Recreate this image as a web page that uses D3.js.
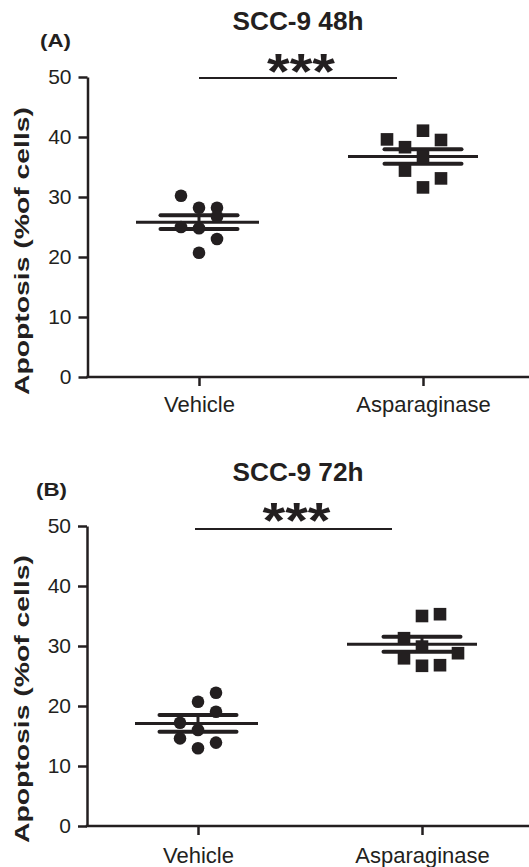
<!DOCTYPE html>
<html><head><meta charset="utf-8">
<script src="https://cdn.jsdelivr.net/npm/d3@7"></script>
<style>
html,body{margin:0;padding:0;background:#fff;}
svg{display:block;font-family:"Liberation Sans",Arial,sans-serif;}
</style></head>
<body>
<svg id="chart" width="529" height="867"></svg>
<script>
// ---- data ----
const categories = ["Vehicle", "Asparaginase"];
const yTicks = [0, 10, 20, 30, 40, 50];
const panelTitles = ["SCC-9 48h", "SCC-9 72h"];
const panelLetters = ["(A)", "(B)"];
const yTitle = "Apoptosis (%of cells)";
const significance = "***";

// Panel A (48h)
const vehicle48 = [30.2, 28.2, 28.2, 26.7, 25.0, 24.8, 23.0, 20.7];
const vehicle48Slot = [-1, 0, 1, 1, -1, 0, 1, 0];
const asparaginase48 = [39.6, 41.05, 39.5, 38.3, 36.7, 34.4, 33.1, 31.6];
const asparaginase48Slot = [-2, 0, 1, -1, 0, -1, 1, 0];
const mean48 = [25.8, 36.75];
const sem48 = [1.15, 1.2];

// Panel B (72h)
const vehicle72 = [20.7, 22.2, 19.05, 17.2, 16.0, 14.6, 13.9, 12.95];
const vehicle72Slot = [0, 1, 1, -1, 0, -1, 1, 0];
const asparaginase72 = [35.0, 35.3, 31.3, 29.9, 28.8, 27.95, 26.8, 26.7];
const asparaginase72Slot = [0, 1, -1, 0, 2, -1, 1, 0];
const mean72 = [17.1, 30.3];
const sem72 = [1.4, 1.25];

const INK = "#231f20";
const svg = d3.select("#chart");

const panels = [
  {title: panelTitles[0], letter: panelLetters[0], groups: [vehicle48, asparaginase48], slots: [vehicle48Slot, asparaginase48Slot],
   mean: mean48, sem: sem48, top: 77, bottom: 377, axisX: 87.5, xr: [199, 423],
   titleY: 30, letterX: 40, letterY: 47, sigLine: [199, 397], sigY: 78, starBase: 89, labelBase: 412, yTitleC: 251},
  {title: panelTitles[1], letter: panelLetters[1], groups: [vehicle72, asparaginase72], slots: [vehicle72Slot, asparaginase72Slot],
   mean: mean72, sem: sem72, top: 526, bottom: 826, axisX: 87, xr: [198, 422],
   titleY: 481, letterX: 36, letterY: 496, sigLine: [195, 392], sigY: 529, starBase: 538, labelBase: 863, yTitleC: 699}
];
// mean-line extents relative to column centre [left, right]
const meanLineExt = [[-63, 60], [-75, 55]];

panels.forEach(p => {
  const g = svg.append("g");
  const x = d3.scalePoint().domain(categories).range(p.xr);
  const y = d3.scaleLinear().domain([0, 50]).range([p.bottom, p.top]);
  const slotW = 18;

  // y axis
  const ya = g.append("g").attr("transform", `translate(${p.axisX},0)`)
    .call(d3.axisLeft(y).tickValues(yTicks).tickSize(9).tickSizeOuter(0).tickPadding(7));
  ya.selectAll("path.domain").attr("stroke", INK).attr("stroke-width", 2.5);
  ya.selectAll(".tick line").attr("stroke", INK).attr("stroke-width", 2.5);
  ya.selectAll(".tick text").attr("fill", INK).style("font-size", "21px").attr("font-family", null);

  // x axis
  const xa = g.append("g").attr("transform", `translate(0,${p.bottom})`)
    .call(d3.axisBottom(x).tickSize(9).tickSizeOuter(0));
  xa.select("path.domain").remove();
  xa.append("line").attr("x1", p.axisX - 1.25).attr("x2", 529).attr("y1", 0).attr("y2", 0)
    .attr("stroke", INK).attr("stroke-width", 2.5);
  xa.selectAll(".tick line").attr("stroke", INK).attr("stroke-width", 2.5);
  xa.selectAll(".tick text").attr("fill", INK).style("font-size", "22px").attr("font-family", null)
    .attr("dy", null).attr("y", p.labelBase - p.bottom);

  // y title
  g.append("text").attr("transform", `translate(29,${p.yTitleC}) rotate(-90)`)
    .attr("text-anchor", "middle").attr("fill", INK).style("font-size", "21px").style("font-weight", "bold")
    .attr("textLength", 288).attr("lengthAdjust", "spacingAndGlyphs").text(yTitle);

  // panel title
  g.append("text").attr("x", 298).attr("y", p.titleY).attr("text-anchor", "middle")
    .attr("fill", INK).style("font-size", "25px").style("font-weight", "bold")
    .attr("textLength", 131).attr("lengthAdjust", "spacingAndGlyphs").text(p.title);
  g.append("text").attr("x", p.letterX).attr("y", p.letterY)
    .attr("fill", INK).style("font-size", "19px").style("font-weight", "bold")
    .attr("textLength", 31).attr("lengthAdjust", "spacingAndGlyphs").text(p.letter);

  // significance
  g.append("line").attr("x1", p.sigLine[0]).attr("x2", p.sigLine[1]).attr("y1", p.sigY).attr("y2", p.sigY)
    .attr("stroke", INK).attr("stroke-width", 2);
  g.append("text").attr("x", (p.sigLine[0] + p.sigLine[1]) / 2 + 3).attr("y", p.starBase).attr("text-anchor", "middle")
    .attr("fill", INK).style("font-size", "50px").style("font-weight", "bold")
    .attr("textLength", 68).attr("lengthAdjust", "spacingAndGlyphs").text(significance);

  // mean + SEM
  categories.forEach((c, i) => {
    const cx = x(c);
    const m = p.mean[i], s = p.sem[i];
    g.append("line").attr("x1", cx).attr("x2", cx).attr("y1", y(m + s)).attr("y2", y(m - s))
      .attr("stroke", INK).attr("stroke-width", 3);
    g.append("line").attr("x1", cx + meanLineExt[i][0]).attr("x2", cx + meanLineExt[i][1]).attr("y1", y(m)).attr("y2", y(m))
      .attr("stroke", INK).attr("stroke-width", 3);
    [m + s, m - s].forEach(v => {
      g.append("line").attr("x1", cx - 38.5).attr("x2", cx + 38.5).attr("y1", y(v)).attr("y2", y(v))
        .attr("stroke", INK).attr("stroke-width", 4).attr("stroke-linecap", "round");
    });
  });

  // points
  const vehPts = p.groups[0].map((v, k) => ({v, s: p.slots[0][k]}));
  g.selectAll("circle.pt").data(vehPts).enter().append("circle")
    .attr("cx", d => x(categories[0]) + d.s * slotW).attr("cy", d => y(d.v)).attr("r", 6.3).attr("fill", INK);
  const aspPts = p.groups[1].map((v, k) => ({v, s: p.slots[1][k]}));
  const sq = 12.6;
  g.selectAll("rect.pt").data(aspPts).enter().append("rect")
    .attr("x", d => x(categories[1]) + d.s * slotW - sq / 2).attr("y", d => y(d.v) - sq / 2)
    .attr("width", sq).attr("height", sq).attr("fill", INK);
});
</script>
</body></html>
